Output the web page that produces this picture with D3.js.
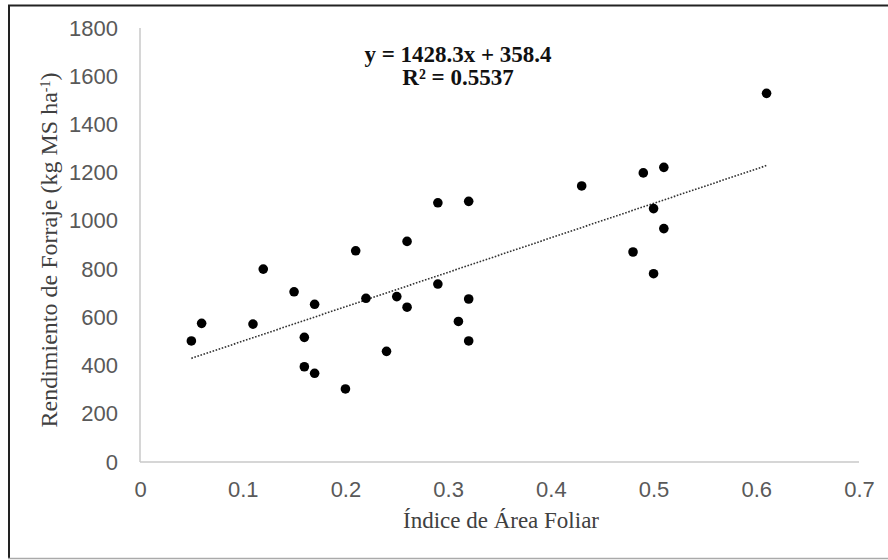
<!DOCTYPE html>
<html>
<head>
<meta charset="utf-8">
<script src="https://cdn.jsdelivr.net/npm/d3@7"></script>
<style>
    body { margin: 0; background: #fff; }
    svg { display: block; }
</style>
</head>
<body>
<div id="chart"></div>
<script>
// leaf area index vs forage yield
const iaf = [0.05, 0.06, 0.11, 0.12, 0.15, 0.16, 0.16, 0.17, 0.17, 0.20,
    0.21, 0.22, 0.24, 0.25, 0.26, 0.26, 0.29, 0.29, 0.31, 0.32,
    0.32, 0.32, 0.43, 0.48, 0.49, 0.50, 0.50, 0.51, 0.51, 0.61];
const rendimiento = [502, 575, 572, 800, 706, 517, 395, 654, 368, 303,
    876, 679, 459, 686, 642, 915, 738, 1075, 583, 676,
    502, 1081, 1145, 871, 1199, 1051, 781, 1222, 968, 1529];

const xTicks = [0, 0.1, 0.2, 0.3, 0.4, 0.5, 0.6, 0.7];
const yTicks = [0, 200, 400, 600, 800, 1000, 1200, 1400, 1600, 1800];

// trendline printed on the chart
const slope = 1428.3;
const intercept = 358.4;
const trendX = [0.05, 0.61];

const W = 888, H = 560;
const margin = {top: 28, right: 29, bottom: 98, left: 140};
const width = W - margin.left - margin.right;
const height = H - margin.top - margin.bottom;

const svg = d3.select('#chart').append('svg')
    .attr('width', W)
    .attr('height', H);

// outer frame: black top/left, grey bottom, no right side
svg.append('line')
    .attr('x1', 8).attr('x2', W)
    .attr('y1', 5.5).attr('y2', 5.5)
    .attr('stroke', '#222').attr('stroke-width', 2);
svg.append('line')
    .attr('x1', 9).attr('x2', 9)
    .attr('y1', 5).attr('y2', 559)
    .attr('stroke', '#222').attr('stroke-width', 2);
svg.append('line')
    .attr('x1', 8).attr('x2', W)
    .attr('y1', 558.5).attr('y2', 558.5)
    .attr('stroke', '#aaa').attr('stroke-width', 1.5);

const g = svg.append('g')
    .attr('transform', 'translate(' + margin.left + ',' + margin.top + ')');

const x = d3.scaleLinear().domain([0, 0.7]).range([0, width]);
const y = d3.scaleLinear().domain([0, 1800]).range([height, 0]);

const xAxis = g.append('g')
    .attr('transform', 'translate(0,' + height + ')')
    .call(d3.axisBottom(x).tickValues(xTicks).tickSize(0).tickPadding(19)
        .tickFormat((d) => { return d === 0 ? '0' : d3.format('.1f')(d) }));

const yAxis = g.append('g')
    .call(d3.axisLeft(y).tickValues(yTicks).tickSize(0).tickPadding(22)
        .tickFormat(d3.format('d')));

yAxis.select('.domain').remove();
xAxis.select('.domain').remove();

// axis lines drawn by hand (Excel-style grey)
g.append('line')
    .attr('x1', 0).attr('x2', 0)
    .attr('y1', 0).attr('y2', height)
    .attr('stroke', '#c8c8c8').attr('stroke-width', 1.5);
g.append('line')
    .attr('x1', 0).attr('x2', width)
    .attr('y1', height).attr('y2', height)
    .attr('stroke', '#c8c8c8').attr('stroke-width', 1.5);

g.selectAll('.tick text')
    .style('font-family', '"Liberation Sans", Arial, sans-serif')
    .style('font-size', '22px')
    .attr('fill', '#595959');

// trendline
const line = d3.line()
    .x((d) => { return x(d) })
    .y((d) => { return y(slope * d + intercept) });

g.append('path')
    .attr('d', line(trendX))
    .attr('fill', 'none')
    .attr('stroke', '#333')
    .attr('stroke-width', 1.6)
    .attr('stroke-dasharray', '1.6,1.6');

g.selectAll('.dot')
    .data(iaf.map((d, i) => { return {x: d, y: rendimiento[i]} }))
    .enter()
.append('circle')
    .attr('class', 'dot')
    .attr('cx', (d) => { return x(d.x) })
    .attr('cy', (d) => { return y(d.y) })
    .attr('r', 4.8)
    .attr('fill', '#000');

// equation
const eq = svg.append('text')
    .attr('x', 458)
    .attr('y', 62)
    .attr('text-anchor', 'middle')
    .style('font-family', '"Liberation Serif", "Times New Roman", serif')
    .style('font-weight', 'bold')
    .style('font-size', '23px')
    .attr('fill', '#111');
eq.append('tspan').attr('x', 458).text('y = 1428.3x + 358.4');
eq.append('tspan').attr('x', 458).attr('dy', 23).text('R² = 0.5537');

// axis titles
svg.append('text')
    .attr('x', 501)
    .attr('y', 528)
    .attr('text-anchor', 'middle')
    .style('font-family', '"Liberation Serif", "Times New Roman", serif')
    .style('font-size', '23px')
    .attr('fill', '#404040')
    .text('Índice de Área Foliar');

const yLab = svg.append('text')
    .attr('transform', 'translate(57,250) rotate(-90)')
    .attr('text-anchor', 'middle')
    .style('font-family', '"Liberation Serif", "Times New Roman", serif')
    .style('font-size', '24px')
    .attr('fill', '#404040');
yLab.append('tspan').text('Rendimiento de Forraje (kg MS ha');
yLab.append('tspan').attr('baseline-shift', 'super').style('font-size', '14px').text('-1');
yLab.append('tspan').text(')');
</script>
</body>
</html>
